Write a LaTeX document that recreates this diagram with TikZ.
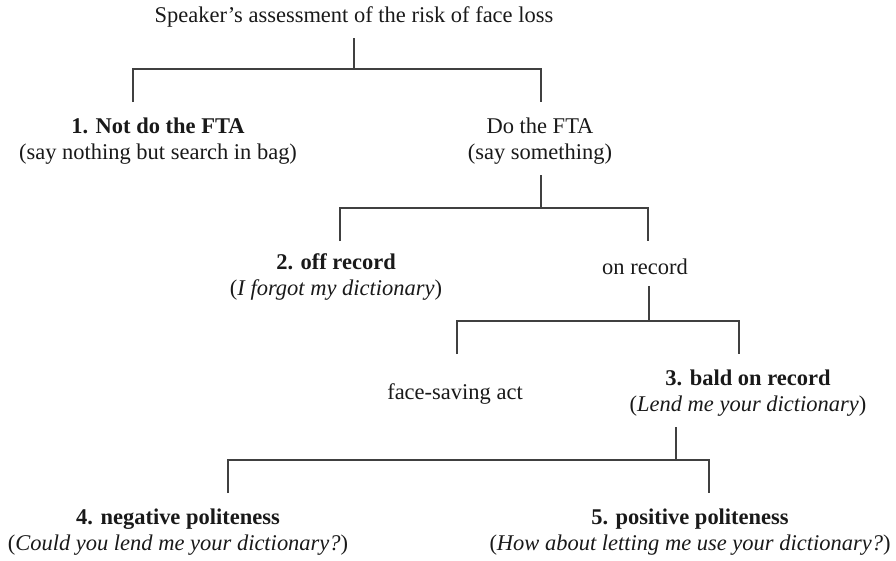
\documentclass[tikz,border=0pt]{standalone}
\usepackage{fontspec}
\setmainfont{Liberation Serif}
\usepackage{tikz}
\tikzset{
  treeLabel/.style={
    align=center,
    inner sep=6pt,
    text=black!90,
    font=\fontsize{12.8}{14.8}\selectfont
  },
  treeBranch/.style={
    draw=black!75,
    line width=0.6pt
  }
}

\begin{document}
\begin{tikzpicture}[x=0.02cm,y=-0.02cm]
  \useasboundingbox (0,0) rectangle (896,561);

  \node[treeLabel] (speaker) at (354,17) {Speaker's assessment of the risk of face loss};
  \node[treeLabel] (notDo) at (158,141) {\textbf{1. Not do the FTA}\\(say nothing but search in bag)};
  \node[treeLabel] (doFta) at (540,141) {Do the FTA\\(say something)};
  \node[treeLabel] (offRecord) at (336,277) {\textbf{2. off record}\\(\textit{I forgot my dictionary})};
  \node[treeLabel] (onRecord) at (645,267) {on record};
  \node[treeLabel] (faceSaving) at (455,394) {face-saving act};
  \node[treeLabel] (baldRecord) at (748,393) {\textbf{3. bald on record}\\(\textit{Lend me your dictionary})};
  \node[treeLabel] (negPolite) at (178,532) {\textbf{4. negative politeness}\\(\textit{Could you lend me your dictionary?})};
  \node[treeLabel] (posPolite) at (690,532) {\textbf{5. positive politeness}\\(\textit{How about letting me use your dictionary?})};

  % forks of the tree
  \coordinate (forkA) at (354,69);
  \coordinate (forkAleft) at (133,69);
  \coordinate (forkAright) at (541,69);
  \coordinate (forkB) at (541,208);
  \coordinate (forkBleft) at (340,208);
  \coordinate (forkBright) at (648,208);
  \coordinate (forkC) at (649,321);
  \coordinate (forkCleft) at (457,321);
  \coordinate (forkCright) at (739,321);
  \coordinate (forkD) at (676,460);
  \coordinate (forkDleft) at (228,460);
  \coordinate (forkDright) at (709,460);

  \draw[treeBranch] (speaker.south -| forkA) -- (forkA);
  \draw[treeBranch] (forkAleft) ++(0,33) -- (forkAleft) -- (forkAright) -- ++(0,33);

  \draw[treeBranch] (doFta.south -| forkB) -- (forkB);
  \draw[treeBranch] (forkBleft) ++(0,33) -- (forkBleft) -- (forkBright) -- ++(0,33);

  \draw[treeBranch] (onRecord.south -| forkC) -- (forkC);
  \draw[treeBranch] (forkCleft) ++(0,33) -- (forkCleft) -- (forkCright) -- ++(0,33);

  \draw[treeBranch] (baldRecord.south -| forkD) -- (forkD);
  \draw[treeBranch] (forkDleft) ++(0,33) -- (forkDleft) -- (forkDright) -- ++(0,33);
\end{tikzpicture}
\end{document}
